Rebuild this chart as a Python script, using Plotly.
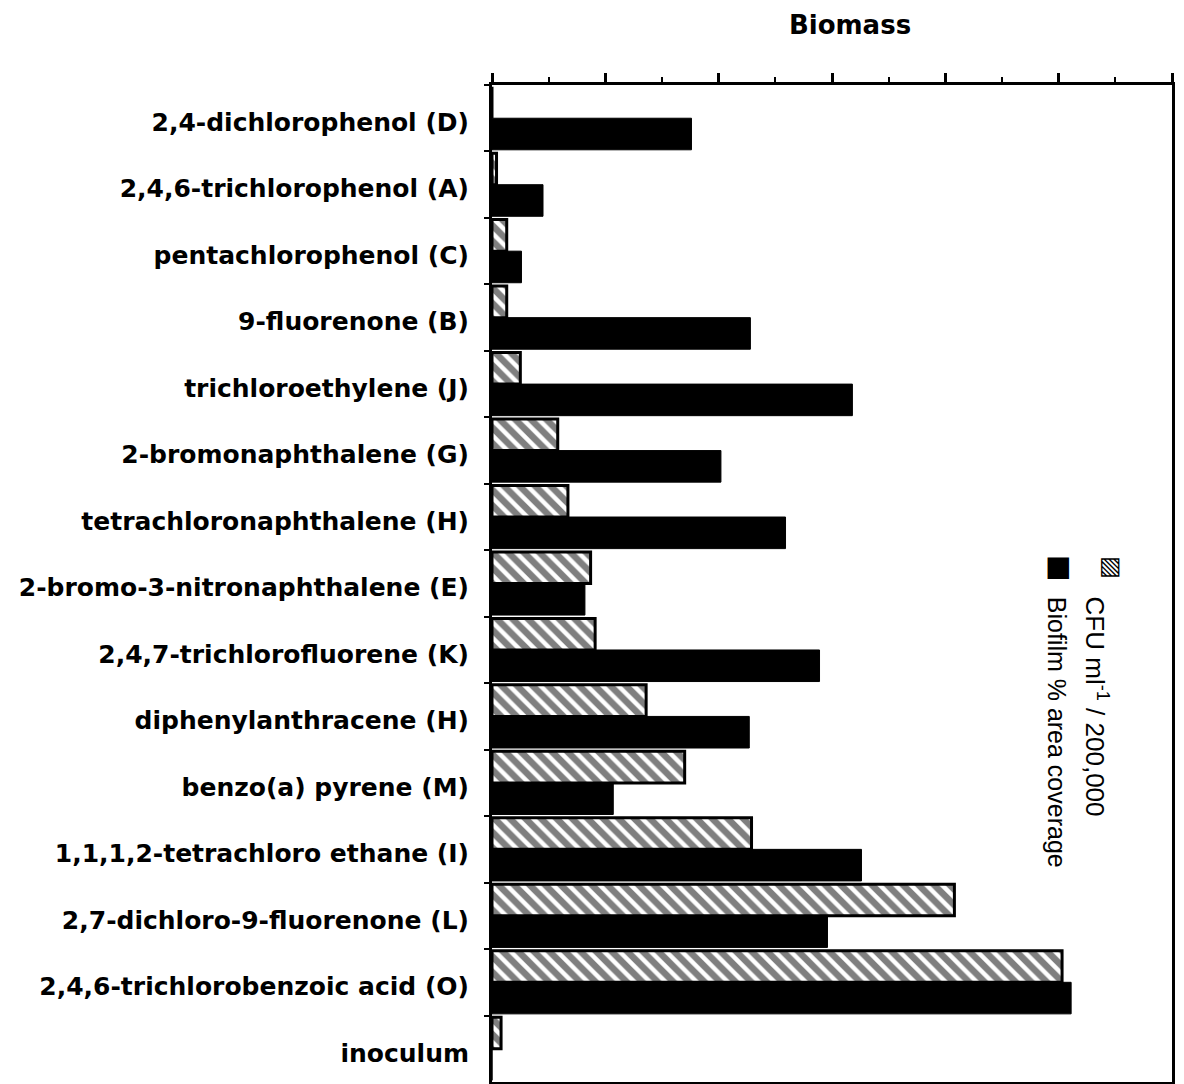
import plotly.graph_objects as go

categories = [
    "2,4-dichlorophenol (D)",
    "2,4,6-trichlorophenol (A)",
    "pentachlorophenol (C)",
    "9-fluorenone (B)",
    "trichloroethylene (J)",
    "2-bromonaphthalene (G)",
    "tetrachloronaphthalene (H)",
    "2-bromo-3-nitronaphthalene (E)",
    "2,4,7-trichlorofluorene (K)",
    "diphenylanthracene (H)",
    "benzo(a) pyrene (M)",
    "1,1,1,2-tetrachloro ethane (I)",
    "2,7-dichloro-9-fluorenone (L)",
    "2,4,6-trichlorobenzoic acid (O)",
    "inoculum",
]
cfu = [0, 0.4, 1.3, 1.3, 2.5, 5.8, 6.7, 8.7, 9.1, 13.6, 17.0, 22.9, 40.8, 50.3, 0.8]
biofilm = [17.6, 4.5, 2.6, 22.8, 31.8, 20.2, 25.9, 8.2, 28.9, 22.7, 10.7, 32.6, 29.6, 51.1, 0]

FONT = "Liberation Sans"
BOLD = "DejaVu Sans"

fig = go.Figure()
fig.add_trace(go.Bar(
    y=categories, x=cfu, orientation="h", name="CFU ml<sup>-1</sup> / 200,000",
    marker=dict(color="white", line=dict(color="black", width=3),
                pattern=dict(shape="\\", fgcolor="black", bgcolor="white", size=11, solidity=0.6)),
))
fig.add_trace(go.Bar(
    y=categories, x=biofilm, orientation="h", name="Biofilm % area coverage",
    marker=dict(color="black", line=dict(color="black", width=1)),
))

fig.update_layout(
    width=1176, height=1076,
    margin=dict(l=484, r=12, t=77, b=2, autoexpand=False),
    barmode="group", bargap=0.05, bargroupgap=0.0,
    plot_bgcolor="white", paper_bgcolor="white",
    showlegend=False,
    font=dict(family=FONT, color="black"),
    title=dict(text="<b>Biomass</b>", x=0.716, xanchor="center", xref="container",
               y=0.984, yanchor="middle", yref="container",
               font=dict(size=26, family=BOLD)),
)
fig.update_xaxes(
    side="top", range=[0, 60], dtick=10, ticks="outside", ticklen=9, tickwidth=2.5,
    tickcolor="black", showticklabels=False, showgrid=False, zeroline=False,
    showline=True, linewidth=3, linecolor="black", mirror=True, automargin=False,
    minor=dict(dtick=5, ticks="outside", ticklen=5, tickwidth=2, tickcolor="black", showgrid=False),
)
fig.update_yaxes(
    autorange="reversed", ticks="outside", ticklen=5, tickwidth=2, tickcolor="black",
    tickson="boundaries", ticklabelstandoff=15, ticklabelshift=-4, automargin=False,
    tickfont=dict(size=25, family=BOLD, weight="bold"),
    showline=True, linewidth=3, linecolor="black", mirror=True, showgrid=False,
)

# rotated legend
fig.add_annotation(xref="paper", yref="paper", x=0.935, y=0.5155, text="▨", showarrow=False,
                   textangle=90, font=dict(size=24, color="black", family="DejaVu Sans"))
fig.add_annotation(xref="paper", yref="paper", x=0.864, y=0.5155, text="■", showarrow=False,
                   textangle=90, font=dict(size=28, color="black", family="DejaVu Sans"))
fig.add_annotation(xref="paper", yref="paper", x=0.916, y=0.4885, yanchor="top",
                   text="CFU ml<sup>-1</sup> / 200,000", showarrow=False, textangle=90,
                   font=dict(size=26, color="black", family=FONT))
fig.add_annotation(xref="paper", yref="paper", x=0.854, y=0.4885, yanchor="top",
                   text="Biofilm % area coverage", showarrow=False, textangle=90,
                   font=dict(size=25, color="black", family=FONT))

fig.write_html("out.html")
